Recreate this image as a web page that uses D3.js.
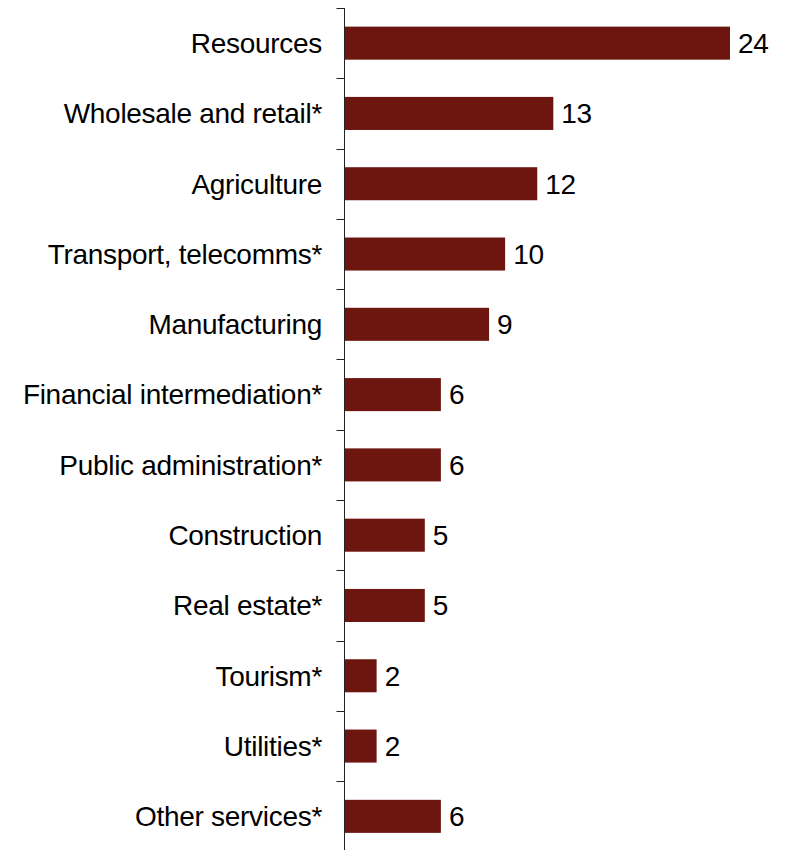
<!DOCTYPE html>
<html>
<head>
<meta charset="utf-8">
<script src="https://cdn.jsdelivr.net/npm/d3@7"></script>
<style>
  html, body { margin: 0; padding: 0; background: #fff; }
  svg { display: block; }
  text { font-family: "Liberation Sans", Arial, sans-serif; fill: #000; }
</style>
</head>
<body>
<svg id="chart" width="785" height="850"></svg>
<script>
// Sectors, top to bottom
const categories = [
  "Resources",
  "Wholesale and retail*",
  "Agriculture",
  "Transport, telecomms*",
  "Manufacturing",
  "Financial intermediation*",
  "Public administration*",
  "Construction",
  "Real estate*",
  "Tourism*",
  "Utilities*",
  "Other services*"
];
const values = [24, 13, 12, 10, 9, 6, 6, 5, 5, 2, 2, 6];

const svg = d3.select("#chart");
const axisX = 344.5;
const fontSize = 28;
const tracking = -0.3;

const x = d3.scaleLinear().domain([0, 24]).range([axisX, 730]);
const y = d3.scaleBand().domain(categories).range([8, 851.5]).paddingInner(0.53).paddingOuter(0.265);

// Bars
svg.append("g").selectAll("rect")
  .data(values)
  .join("rect")
  .attr("x", x(0))
  .attr("y", (d, i) => y(categories[i]))
  .attr("width", d => x(d) - x(0))
  .attr("height", y.bandwidth())
  .attr("fill", "#6d1610");

// Value labels at bar ends
svg.append("g").selectAll("text")
  .data(values)
  .join("text")
  .attr("x", d => x(d) + 8)
  .attr("y", (d, i) => y(categories[i]) + y.bandwidth() / 2)
  .attr("dy", "0.35em")
  .attr("font-size", fontSize)
  .attr("letter-spacing", tracking)
  .text(d => d);

// Category axis: ticks sit on the band boundaries
const step = y.step();
const boundaries = d3.range(categories.length + 1).map(i => 8 + i * step);
const axisG = svg.append("g");
axisG.append("line")
  .attr("x1", axisX).attr("x2", axisX)
  .attr("y1", 8).attr("y2", 851)
  .attr("stroke", "#222").attr("stroke-width", 1);
axisG.selectAll("line.tick")
  .data(boundaries)
  .join("line")
  .attr("class", "tick")
  .attr("x1", axisX - 8).attr("x2", axisX)
  .attr("y1", d => Math.round(d) + 0.5).attr("y2", d => Math.round(d) + 0.5)
  .attr("stroke", "#222").attr("stroke-width", 1);

// Category labels
axisG.selectAll("text")
  .data(categories)
  .join("text")
  .attr("x", 322)
  .attr("y", d => y(d) + y.bandwidth() / 2)
  .attr("dy", "0.35em")
  .attr("text-anchor", "end")
  .attr("font-size", fontSize)
  .attr("letter-spacing", tracking)
  .text(d => d);
</script>
</body>
</html>
